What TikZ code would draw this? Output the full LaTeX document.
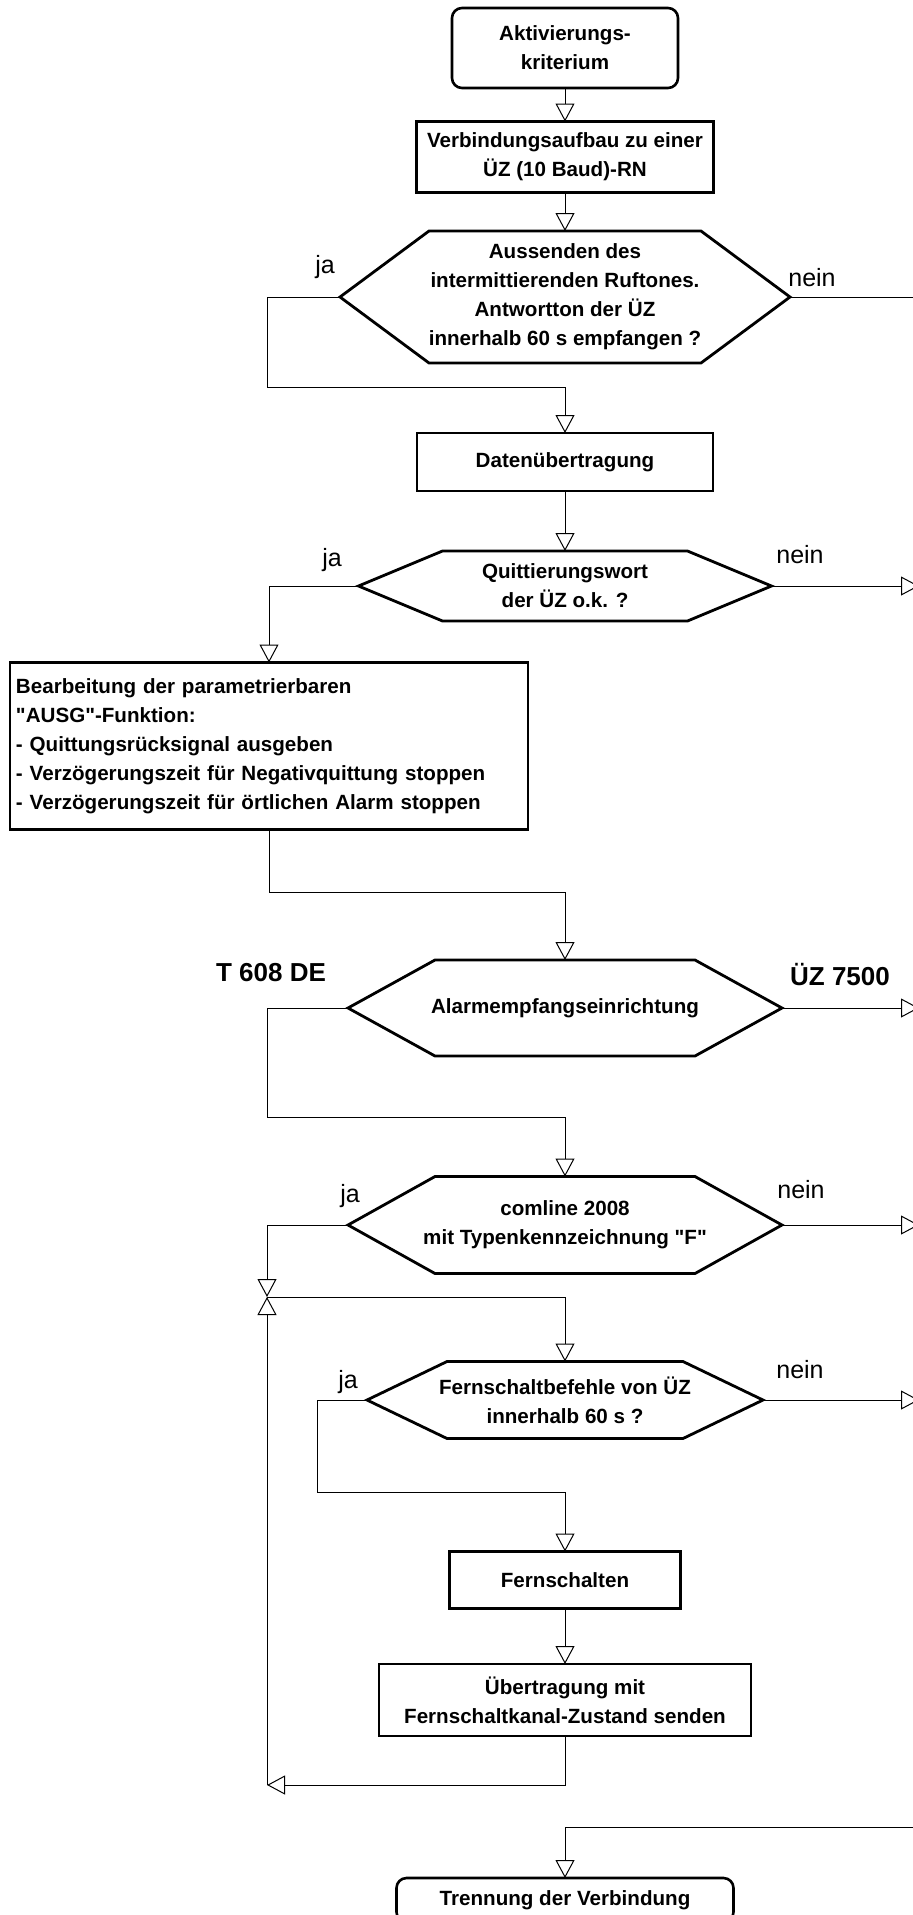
\documentclass[tikz,border=0pt]{standalone}
\usepackage{fontspec}
\setmainfont{Liberation Sans}
\usetikzlibrary{arrows.meta}

\begin{document}
\begin{tikzpicture}[x=1pt,y=-1pt,
  every node/.style={font=\fontsize{20.6}{29}\selectfont\bfseries,inner sep=0pt,outer sep=0pt},
  box/.style={draw,line width=2.6pt,align=center},
  hexa/.style={align=center},
  hexline/.style={line width=2.8pt,line join=miter},
  line/.style={line width=1pt},
  flow/.style={line width=1pt,-{Triangle[open,length=18pt,width=19pt]}},
  lbl/.style={font=\fontsize{25}{30}\selectfont},
  sys/.style={font=\fontsize{26}{30}\selectfont\bfseries}]
\useasboundingbox (0,0) rectangle (913,1915);
\clip (0,0) rectangle (913,1915);
% Boxes
\node[box,rounded corners=10pt,minimum width=226,minimum height=80] (start) at (565,48) {Aktivierungs-\\kriterium};
\node[box,minimum width=297,minimum height=71] (aufbau) at (565,157) {Verbindungsaufbau zu einer\\ÜZ (10 Baud)-RN};
\node[hexa,minimum width=450,minimum height=132] (q1) at (565,297) {Aussenden des\\intermittierenden Ruftones.\\Antwortton der ÜZ\\innerhalb 60 s empfangen ?};
\node[box,minimum width=296,minimum height=58] (daten) at (565,462) {Datenübertragung};
\node[hexa,minimum width=413,minimum height=70] (q2) at (565,586) {Quittierungswort\\der ÜZ o.k. ?};
\node[box,align=left,text width=506,inner xsep=6pt,minimum height=167] (ausg) at (269,746) {Bearbeitung der parametrierbaren\\\textquotedbl AUSG\textquotedbl-Funktion:\\- Quittungsrücksignal ausgeben\\- Verzögerungszeit für Negativquittung stoppen\\- Verzögerungszeit für örtlichen Alarm stoppen};
\node[hexa,minimum width=434,minimum height=96] (q3) at (565,1008) {Alarmempfangseinrichtung};
\node[hexa,minimum width=434,minimum height=97] (q4) at (565,1225) {comline 2008\\mit Typenkennzeichnung \textquotedbl F\textquotedbl};
\node[hexa,minimum width=396,minimum height=77] (q5) at (565,1400) {Fernschaltbefehle von ÜZ\\innerhalb 60 s ?};
\node[box,minimum width=231,minimum height=57] (fern) at (565,1580) {Fernschalten};
\node[box,minimum width=372,minimum height=72] (sende) at (565,1700) {Übertragung mit\\Fernschaltkanal-Zustand senden};
\node[box,rounded corners=10pt,minimum width=337,minimum height=44] (trenn) at (565,1900) {Trennung der Verbindung};
% Hexagons
\foreach \n/\s in {q1/89,q2/84,q3/87,q4/87,q5/80}
  \draw[hexline] (\n.west) -- ([xshift=\s]\n.north west) -- ([xshift=-\s]\n.north east)
    -- (\n.east) -- ([xshift=-\s]\n.south east) -- ([xshift=\s]\n.south west) -- cycle;
% Labels
\node[lbl] (ja1) at (325,267) {ja};
\node[lbl] (nein1) at (812,278) {nein};
\node[lbl] (ja2) at (332,560) {ja};
\node[lbl] (nein2) at (800,555) {nein};
\node[sys] (t608) at (271,973) {T 608 DE};
\node[sys] (uz7500) at (840,975) {ÜZ 7500};
\node[lbl] (ja4) at (350,1196) {ja};
\node[lbl] (nein4) at (801,1190) {nein};
\node[lbl] (ja5) at (348,1382) {ja};
\node[lbl] (nein5) at (800,1370) {nein};
% Free ends
\coordinate (off1) at (913,297);
\coordinate (off2) at (919,586);
\coordinate (off3) at (919,1008);
\coordinate (off4) at (919,1225);
\coordinate (off5) at (919,1400);
\coordinate (offT) at (913,1827);
\coordinate (jn) at (267,1297);
\coordinate (back) at (267,1785);
% Connectors
\draw[flow] (start.south) -- (aufbau.north);
\draw[flow] (aufbau.south) -- (q1.north);
\draw[line] (q1.east) -- (off1);
\draw[flow] (q1.west) -| (267,387) -| (daten.north);
\draw[flow] (daten.south) -- (q2.north);
\draw[flow] (q2.east) -- (off2);
\draw[flow] (q2.west) -| (ausg.north);
\draw[flow] (ausg.south) -- ++(0,63) -| (q3.north);
\draw[flow] (q3.east) -- (off3);
\draw[flow] (q3.west) -| (267,1117) -| (q4.north);
\draw[flow] (q4.east) -- (off4);
\draw[flow] (q4.west) -| (jn);
\draw[flow] (jn) -| (q5.north);
\draw[flow] (q5.east) -- (off5);
\draw[flow] (q5.west) -| (317,1492) -| (fern.north);
\draw[flow] (fern.south) -- (sende.north);
\draw[flow] (sende.south) |- (back);
\draw[flow] (back) -- (jn);
\draw[flow] (offT) -| (trenn.north);
\end{tikzpicture}
\end{document}
